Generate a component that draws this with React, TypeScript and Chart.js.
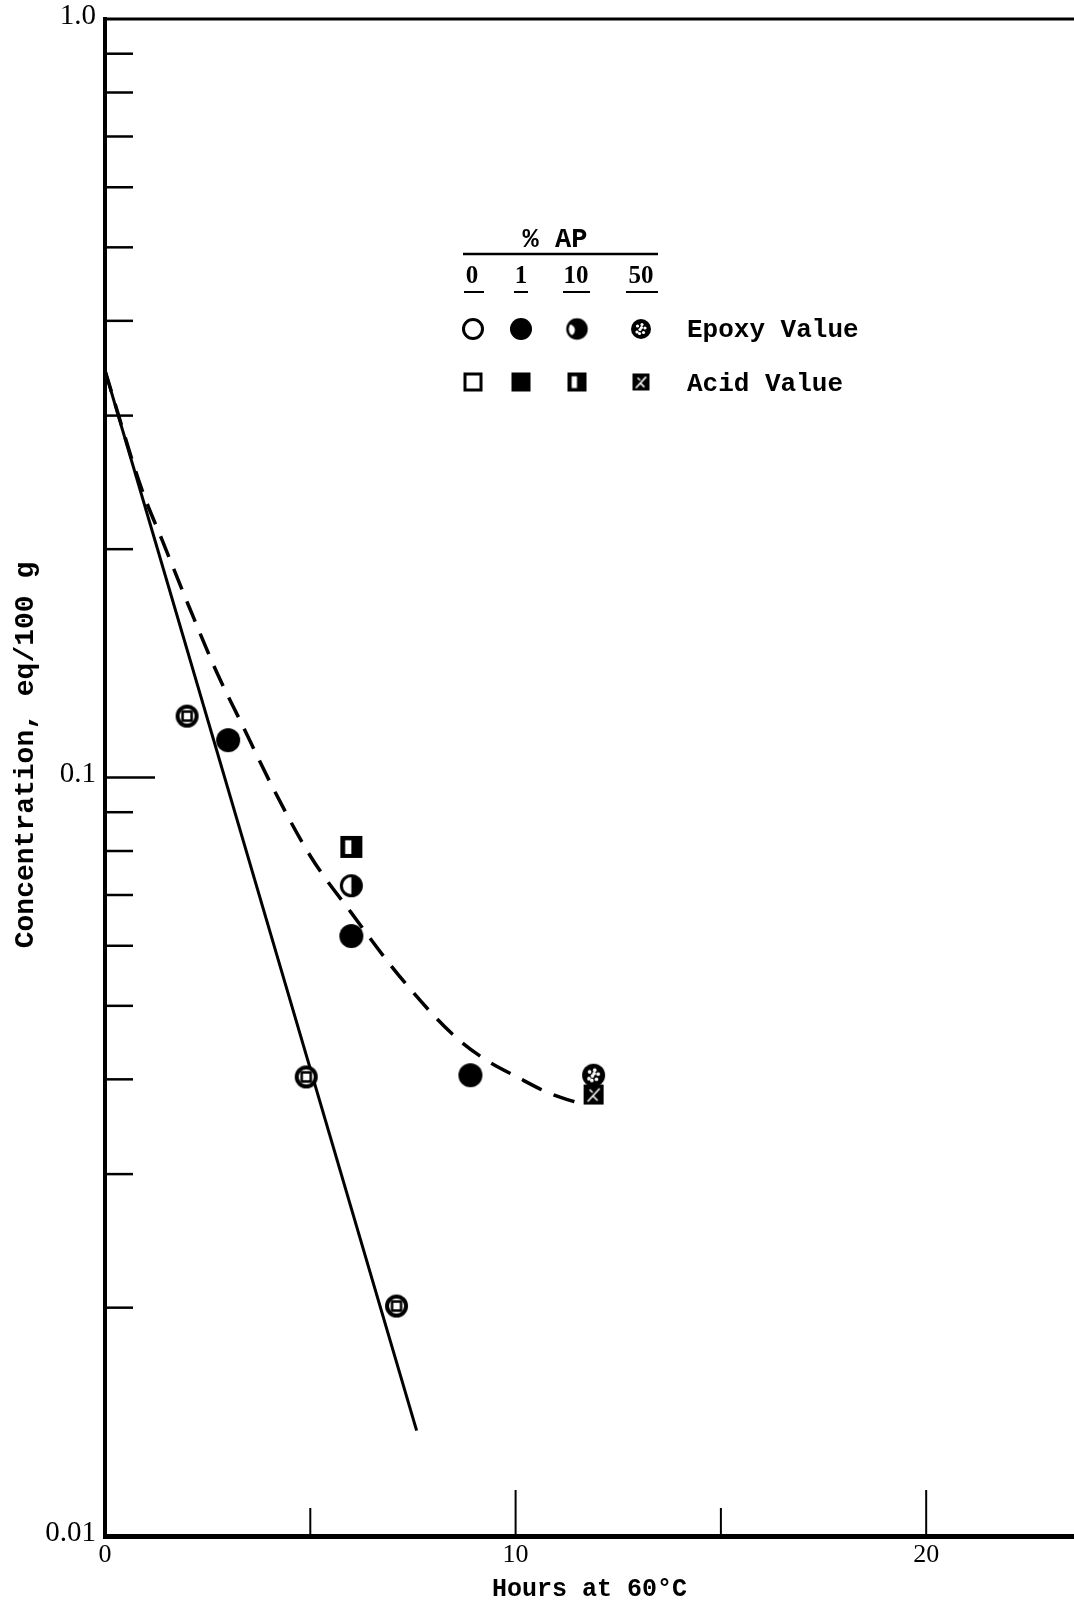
import React, { useEffect, useRef } from 'react';
import { Chart, registerables } from 'chart.js';

Chart.register(...registerables);

// ---- axis data ----
const X_MIN = 0;
const X_MAX = 23.6;
const X_TICKS = [0, 10, 20];
const X_MINOR_TICKS = [5, 15];
const X_MAJOR_INNER_TICKS = [10, 20];
const Y_MIN = 0.01;
const Y_MAX = 1.0;
const Y_TICKS = [0.01, 0.1, 1.0];
const Y_TICK_LABELS = ['0.01', '0.1', '1.0'];
const Y_MAJOR_INNER_TICKS = [0.1];
const Y_MINOR_TICKS = [0.02, 0.03, 0.04, 0.05, 0.06, 0.07, 0.08, 0.09, 0.2, 0.3, 0.4, 0.5, 0.6, 0.7, 0.8, 0.9];

const X_TITLE = 'Hours at 60°C';
const Y_TITLE = 'Concentration, eq/100 g';

// ---- measured points ----
const EPOXY0_HOURS = [2, 4.9, 7.1];
const EPOXY0_VALUES = [0.1205, 0.0403, 0.0201];
const ACID0_HOURS = [2, 4.9, 7.1];
const ACID0_VALUES = [0.1205, 0.0403, 0.0201];
const EPOXY1_HOURS = [3, 6, 8.9];
const EPOXY1_VALUES = [0.112, 0.0618, 0.0405];
const EPOXY10_HOURS = [6];
const EPOXY10_VALUES = [0.072];
const ACID10_HOURS = [6];
const ACID10_VALUES = [0.081];
const EPOXY50_HOURS = [11.9];
const EPOXY50_VALUES = [0.0405];
const ACID50_HOURS = [11.9];
const ACID50_VALUES = [0.0382];

// ---- fitted curves ----
const SOLID_HOURS = [0, 7.59];
const SOLID_VALUES = [0.344, 0.01377];
const DASHED_HOURS = [0, 0.9, 1.39, 2.05, 2.73, 3.32, 4.12, 5.02, 6.0, 7.15, 8.44, 9.17, 10.07, 10.8, 11.68];
const DASHED_VALUES = [0.344, 0.2395, 0.2057, 0.1678, 0.1373, 0.118, 0.0962, 0.0785, 0.0663, 0.0549, 0.046, 0.0428, 0.0402, 0.0384, 0.037];

// ---- legend ----
const LEGEND_HEADER = '% AP';
const LEGEND_COLUMNS = ['0', '1', '10', '50'];
const LEGEND_ROWS = ['Epoxy Value', 'Acid Value'];

const pts = (xs: number[], ys: number[]) => xs.map((x, i) => ({ x, y: ys[i] }));

function mk(size: number, draw: (c: CanvasRenderingContext2D, s: number) => void) {
  const cv = document.createElement('canvas');
  cv.width = size;
  cv.height = size;
  const c = cv.getContext('2d') as CanvasRenderingContext2D;
  c.strokeStyle = '#000';
  c.fillStyle = '#000';
  draw(c, size);
  return cv;
}

const openCircle = (r: number, lw: number) =>
  mk(Math.ceil(2 * r + lw + 4), (c, s) => {
    c.beginPath();
    c.arc(s / 2, s / 2, r, 0, Math.PI * 2);
    c.fillStyle = '#fff';
    c.fill();
    c.lineWidth = lw;
    c.stroke();
  });

const openSquare = (a: number, lw: number) =>
  mk(Math.ceil(a + lw + 4), (c, s) => {
    const o = (s - a) / 2;
    c.fillStyle = '#fff';
    c.fillRect(o, o, a, a);
    c.lineWidth = lw;
    c.strokeRect(o, o, a, a);
  });

const filledCircle = (r: number) =>
  mk(Math.ceil(2 * r + 4), (c, s) => {
    c.beginPath();
    c.arc(s / 2, s / 2, r, 0, Math.PI * 2);
    c.fill();
  });

const filledSquare = (a: number) =>
  mk(Math.ceil(a + 4), (c, s) => {
    const o = (s - a) / 2;
    c.fillRect(o, o, a, a);
  });

const halfCircle = (r: number, lw: number) =>
  mk(Math.ceil(2 * r + lw + 4), (c, s) => {
    const m = s / 2;
    c.beginPath();
    c.arc(m, m, r, 0, Math.PI * 2);
    c.fillStyle = '#fff';
    c.fill();
    c.fillStyle = '#000';
    c.beginPath();
    c.arc(m, m, r, -Math.PI / 2, Math.PI / 2);
    c.closePath();
    c.fill();
    c.lineWidth = lw;
    c.beginPath();
    c.arc(m, m, r, 0, Math.PI * 2);
    c.stroke();
  });

const crescentCircle = (r: number) =>
  mk(Math.ceil(2 * r + 4), (c, s) => {
    const m = s / 2;
    c.beginPath();
    c.arc(m, m, r, 0, Math.PI * 2);
    c.fill();
    c.fillStyle = '#fff';
    c.beginPath();
    c.arc(m - r * 0.75, m + r * 0.1, r * 0.55, 0, Math.PI * 2);
    c.fill();
    c.strokeStyle = '#000';
    c.lineWidth = 2.5;
    c.beginPath();
    c.arc(m, m, r - 1, 0, Math.PI * 2);
    c.stroke();
  });

const splitSquare = (a: number) =>
  mk(Math.ceil(a + 4), (c, s) => {
    const o = (s - a) / 2;
    c.fillRect(o, o, a, a);
    c.fillStyle = '#fff';
    c.fillRect(o + a * 0.22, o + a * 0.2, a * 0.28, a * 0.62);
  });

const speckleCircle = (r: number) =>
  mk(Math.ceil(2 * r + 4), (c, s) => {
    const m = s / 2;
    c.beginPath();
    c.arc(m, m, r, 0, Math.PI * 2);
    c.fill();
    c.fillStyle = '#fff';
    const dots = [[-0.35, -0.3], [0.1, -0.45], [0.4, -0.1], [-0.1, 0.05], [0.25, 0.35], [-0.4, 0.3], [0.05, -0.15], [-0.15, 0.45]];
    for (const [dx, dy] of dots) {
      c.beginPath();
      c.arc(m + dx * r, m + dy * r, r * 0.16, 0, Math.PI * 2);
      c.fill();
    }
  });

const hatchSquare = (a: number) =>
  mk(Math.ceil(a + 4), (c, s) => {
    const o = (s - a) / 2;
    c.fillRect(o, o, a, a);
    c.strokeStyle = '#fff';
    c.lineWidth = 1.6;
    c.beginPath();
    c.moveTo(o + a * 0.2, o + a * 0.85);
    c.lineTo(o + a * 0.8, o + a * 0.2);
    c.moveTo(o + a * 0.45, o + a * 0.55);
    c.lineTo(o + a * 0.7, o + a * 0.8);
    c.moveTo(o + a * 0.3, o + a * 0.25);
    c.lineTo(o + a * 0.45, o + a * 0.4);
    c.stroke();
  });

export default function App() {
  const ref = useRef<HTMLCanvasElement | null>(null);

  useEffect(() => {
    if (!ref.current) return;

    const m = {
      epoxy0: openCircle(9.5, 4),
      acid0: openSquare(9, 2.5),
      epoxy1: filledCircle(12),
      epoxy10: halfCircle(10, 3),
      acid10: splitSquare(22),
      epoxy50: speckleCircle(11.5),
      acid50: hatchSquare(20),
    };
    const legendMarks = [
      [openCircle(9.5, 3), filledCircle(11), crescentCircle(10.5), speckleCircle(10)],
      [openSquare(16, 3), filledSquare(19), splitSquare(19), hatchSquare(17)],
    ];

    const decor = {
      id: 'decor',
      afterDraw(chart: any) {
        const { ctx, chartArea: a, scales } = chart;
        const xs = scales.x;
        const ys = scales.y;
        const line = (x1: number, y1: number, x2: number, y2: number) => {
          ctx.beginPath();
          ctx.moveTo(x1, y1);
          ctx.lineTo(x2, y2);
          ctx.stroke();
        };
        ctx.save();
        ctx.strokeStyle = '#000';
        ctx.fillStyle = '#000';
        // top frame line
        ctx.lineWidth = 3;
        line(a.left - 2, a.top, a.right, a.top);
        // inward y ticks
        ctx.lineWidth = 2.5;
        for (const v of Y_MINOR_TICKS) {
          const p = ys.getPixelForValue(v);
          line(a.left, p, a.left + 28, p);
        }
        for (const v of Y_MAJOR_INNER_TICKS) {
          const p = ys.getPixelForValue(v);
          line(a.left, p, a.left + 50, p);
        }
        // inward x ticks
        ctx.lineWidth = 2;
        for (const v of X_MINOR_TICKS) {
          const p = xs.getPixelForValue(v);
          line(p, a.bottom, p, a.bottom - 28);
        }
        for (const v of X_MAJOR_INNER_TICKS) {
          const p = xs.getPixelForValue(v);
          line(p, a.bottom, p, a.bottom - 46);
        }
        // axis titles
        ctx.font = 'bold 28px "Liberation Mono"';
        ctx.textAlign = 'center';
        ctx.textBaseline = 'middle';
        ctx.save();
        ctx.translate(26, 755);
        ctx.rotate(-Math.PI / 2);
        ctx.fillText(Y_TITLE, 0, 0);
        ctx.restore();
        ctx.font = 'bold 25px "Liberation Mono"';
        ctx.fillText(X_TITLE, (a.left + a.right) / 2, 1590);

        // legend table
        ctx.font = 'bold 27px "Liberation Mono"';
        ctx.textBaseline = 'alphabetic';
        ctx.fillText(LEGEND_HEADER, 555, 247);
        ctx.lineWidth = 2.5;
        line(463, 254, 658, 254);
        const colNum = [472, 521, 576, 641];
        const colUnder = [[464, 484], [514, 528], [563, 590], [626, 658]];
        ctx.font = 'bold 25px "Liberation Serif"';
        ctx.lineWidth = 2;
        LEGEND_COLUMNS.forEach((t, i) => {
          ctx.fillText(t, colNum[i], 283);
          line(colUnder[i][0], 292, colUnder[i][1], 292);
        });
        const colMark = [473, 521, 577, 641];
        const rowY = [329, 382];
        const rowBase = [337, 391];
        ctx.font = 'bold 26px "Liberation Mono"';
        ctx.textAlign = 'left';
        LEGEND_ROWS.forEach((t, r) => {
          legendMarks[r].forEach((cv, i) => {
            ctx.drawImage(cv, colMark[i] - cv.width / 2, rowY[r] - cv.height / 2);
          });
          ctx.fillText(t, 687, rowBase[r]);
        });
        ctx.restore();
      },
    };

    const pointDs = (label: string, xs: number[], vs: number[], style: HTMLCanvasElement, order: number) => ({
      label,
      data: pts(xs, vs),
      showLine: false,
      pointStyle: style,
      pointRadius: 10,
      pointHoverRadius: 10,
      order,
    });

    const chart = new Chart(ref.current, {
      type: 'line',
      data: {
        datasets: [
          {
            label: 'Fit 0% AP',
            data: pts(SOLID_HOURS, SOLID_VALUES),
            borderColor: '#000',
            borderWidth: 3,
            pointRadius: 0,
            fill: false,
            order: 20,
          },
          {
            label: 'Fit 1-50% AP',
            data: pts(DASHED_HOURS, DASHED_VALUES),
            borderColor: '#000',
            borderWidth: 3.5,
            borderDash: [22, 13],
            cubicInterpolationMode: 'monotone',
            pointRadius: 0,
            fill: false,
            order: 21,
          },
          pointDs('Epoxy 0%', EPOXY0_HOURS, EPOXY0_VALUES, m.epoxy0, 5),
          pointDs('Acid 0%', ACID0_HOURS, ACID0_VALUES, m.acid0, 1),
          pointDs('Epoxy 1%', EPOXY1_HOURS, EPOXY1_VALUES, m.epoxy1, 5),
          pointDs('Epoxy 10%', EPOXY10_HOURS, EPOXY10_VALUES, m.epoxy10, 5),
          pointDs('Acid 10%', ACID10_HOURS, ACID10_VALUES, m.acid10, 5),
          pointDs('Acid 50%', ACID50_HOURS, ACID50_VALUES, m.acid50, 6),
          pointDs('Epoxy 50%', EPOXY50_HOURS, EPOXY50_VALUES, m.epoxy50, 2),
        ] as any,
      },
      options: {
        responsive: false,
        animation: false,
        events: [],
        layout: { autoPadding: false, padding: { top: 19, right: 0, left: 0, bottom: 0 } },
        plugins: { legend: { display: false }, tooltip: { enabled: false } },
        scales: {
          x: {
            type: 'linear',
            min: X_MIN,
            max: X_MAX,
            grid: { display: false, drawTicks: false },
            border: { display: true, color: '#000', width: 5 },
            afterBuildTicks: (s: any) => {
              s.ticks = X_TICKS.map((v) => ({ value: v }));
            },
            afterFit: (s: any) => {
              s.height = 72;
              s.paddingLeft = 0;
              s.paddingRight = 0;
            },
            ticks: {
              color: '#000',
              padding: 4,
              font: { family: 'Liberation Serif', size: 26 },
              maxRotation: 0,
              autoSkip: false,
              callback: (v: any) => String(v),
            },
          },
          y: {
            type: 'logarithmic',
            min: Y_MIN,
            max: Y_MAX,
            grid: { display: false, drawTicks: false },
            border: { display: true, color: '#000', width: 4 },
            afterBuildTicks: (s: any) => {
              s.ticks = Y_TICKS.map((v) => ({ value: v }));
            },
            afterFit: (s: any) => {
              s.width = 105;
              s.paddingTop = 0;
              s.paddingBottom = 0;
            },
            ticks: {
              color: '#000',
              padding: 9,
              labelOffset: -3,
              autoSkip: false,
              font: { family: 'Liberation Serif', size: 29 },
              callback: (v: any) => {
                const i = Y_TICKS.findIndex((t) => Math.abs(t - Number(v)) < t * 1e-6);
                return i >= 0 ? Y_TICK_LABELS[i] : '';
              },
            },
          },
        },
      },
      plugins: [decor],
    } as any);

    return () => chart.destroy();
  }, []);

  return (
    <div style={{ position: 'absolute', left: 0, top: 0, width: 1074, height: 1608, overflow: 'hidden', background: '#fff' }}>
      <canvas ref={ref} width={1074} height={1608} style={{ display: 'block' }} />
    </div>
  );
}
